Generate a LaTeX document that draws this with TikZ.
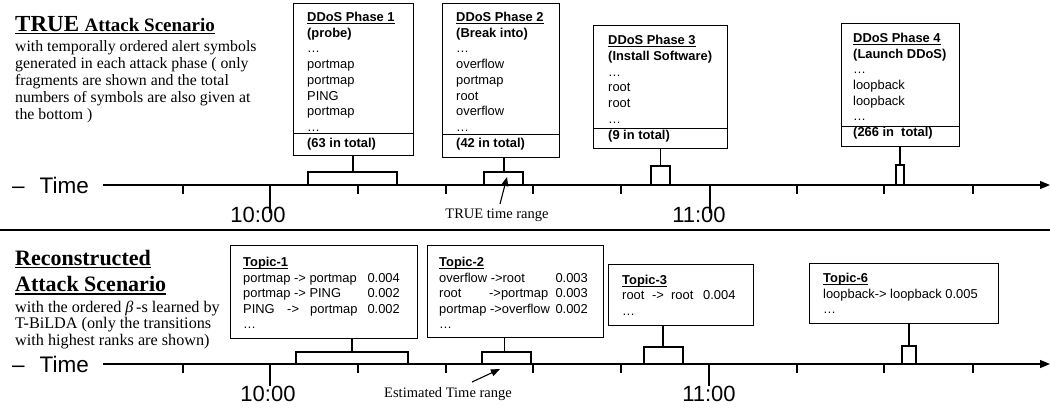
\documentclass[tikz,border=0pt]{standalone}
\usepackage{fontspec}
\setmainfont{Liberation Serif}
\setsansfont{Liberation Sans}
\usetikzlibrary{arrows.meta}

% underline drawn as a rule close to the baseline: #1 drop, #2 thickness, #3 text
\newcommand{\undl}[3]{\leavevmode\setbox0\hbox{#3}\rlap{\rule[-#1]{\wd0}{#2}}\box0}

\begin{document}
\begin{tikzpicture}[x=1pt,y=-1pt,
  boxframe/.style={draw, line width=1.4pt, anchor=north west, inner sep=0pt},
  divider/.style={line width=1.2pt},
  boxtxt/.style={anchor=base west, inner sep=0pt, font=\sffamily\fontsize{12.9}{15}\selectfont},
  numtxt/.style={anchor=base east, inner sep=0pt, font=\sffamily\fontsize{12.9}{15}\selectfont},
  timeline/.style={line width=1.2pt, -{Triangle[length=10pt,width=8pt]}},
  tickmark/.style={line width=1.1pt},
  bracket/.style={line width=1.1pt},
  stemthick/.style={line width=2pt},
  stemthin/.style={line width=1pt},
  timelbl/.style={anchor=base west, inner sep=0pt, font=\sffamily\fontsize{22.5}{22.5}\selectfont},
  clocklbl/.style={anchor=base, inner sep=0pt, font=\sffamily\fontsize{22}{22}\selectfont},
  headtxt/.style={anchor=base west, inner sep=0pt, font=\rmfamily\bfseries\fontsize{22}{22}\selectfont},
  serifbody/.style={anchor=base west, inner sep=0pt, font=\rmfamily\fontsize{15.8}{16}\selectfont},
  rangelbl/.style={anchor=base, inner sep=0pt, font=\rmfamily\fontsize{14.5}{14.5}\selectfont},
  pointer/.style={line width=1.1pt, -{Triangle[length=9pt,width=7pt]}},
]
\useasboundingbox (0,0) rectangle (1050,408);

% ---------------- upper half: true attack scenario ----------------
\node[headtxt] (truetitle) at (15,31.7)
  {\undl{2.6pt}{1.4pt}{{\fontsize{23}{23}\selectfont TRUE} {\fontsize{19}{19}\selectfont Attack Scenario}}};
\foreach \s [count=\i] in {
  with temporally ordered alert symbols,
  generated in each attack phase ( only,
  fragments are shown and the total,
  numbers of symbols are also given at,
  the bottom )}
  \node[serifbody] (truedesc\i) at (15,{51.5+17*(\i-1)}) {\s};

% time axis
\node[timelbl] (time1) at (12,193) {–\hspace{15pt}Time};
\coordinate (ax1s) at (103,185);
\coordinate (ax1e) at (1050,185);
\draw[timeline] (ax1s) -- (ax1e);
\foreach \x in {183,358,446,533,621,797,884,973}
  \draw[tickmark] (\x,185) -- (\x,194);
\draw[tickmark] (270,185) -- (270,213);
\draw[tickmark] (710,185) -- (710,213);
\node[clocklbl] (clk1a) at (258,222) {10:00};
\node[clocklbl] (clk1b) at (699,222) {11:00};

% phase boxes
\node[boxframe, minimum width=120pt, minimum height=152pt] (p1) at (293,3) {};
\node[boxframe, minimum width=117pt, minimum height=154pt] (p2) at (442,3) {};
\node[boxframe, minimum width=134pt, minimum height=123pt] (p3) at (593,25) {};
\node[boxframe, minimum width=118pt, minimum height=123pt] (p4) at (841,23) {};
\draw[divider] ([yshift=23pt]p1.south west) -- ([yshift=23pt]p1.south east);
\draw[divider] ([yshift=24pt]p2.south west) -- ([yshift=24pt]p2.south east);
\draw[divider] ([yshift=21pt]p3.south west) -- ([yshift=21pt]p3.south east);
\draw[divider] ([yshift=21pt]p4.south west) -- ([yshift=21pt]p4.south east);

\foreach \s [count=\i] in {{\textbf{\undl{2.8pt}{1pt}{DDoS Phase 1}}}, {\textbf{(probe)}}, …,
  portmap, portmap, PING, portmap, …, {\textbf{(63 in total)}}}
  \node[boxtxt] (p1t\i) at (307,{21.5+15.7*(\i-1)}) {\s};
\foreach \s [count=\i] in {{\textbf{\undl{2.8pt}{1pt}{DDoS Phase 2}}}, {\textbf{(Break into)}}, …,
  overflow, portmap, root, overflow, …, {\textbf{(42 in total)}}}
  \node[boxtxt] (p2t\i) at (456,{21.5+15.7*(\i-1)}) {\s};
\foreach \s [count=\i] in {{\textbf{\undl{2.8pt}{1pt}{DDoS Phase 3}}}, {\textbf{(Install Software)}}, …,
  root, root, …, {\textbf{(9 in total)}}}
  \node[boxtxt] (p3t\i) at (608,{44.5+15.8*(\i-1)}) {\s};
\foreach \s [count=\i] in {{\textbf{\undl{2.8pt}{1pt}{DDoS Phase 4}}}, {\textbf{(Launch DDoS)}}, …,
  loopback, loopback, …, {\textbf{(266 in\ \ total)}}}
  \node[boxtxt] (p4t\i) at (853,{42.6+15.6*(\i-1)}) {\s};

% stems and time-range brackets
\coordinate (b1) at (353,172);
\coordinate (b2) at (504,172);
\coordinate (b3) at (660,166);
\coordinate (b4) at (900,165);
\draw[stemthick] (p1.south -| b1) -- (b1);
\draw[stemthick] (p2.south -| b2) -- (b2);
\draw[stemthin]  (p3.south -| b3) -- (b3);
\draw[stemthick] (p4.south -| b4) -- (b4);
\draw[bracket] (308,185) |- (397,172) -- (397,185);
\draw[bracket] (484,185) |- (523,172) -- (523,185);
\draw[bracket] (651,185) |- (670,166) -- (670,185);
\draw[bracket] (896,185) |- (904,165) -- (904,185);

\node[rangelbl] (truerange) at (497,218) {TRUE time range};
\coordinate (trtail) at (500,204);
\coordinate (trtip) at (507,177);
\draw[pointer] (trtail) -- (trtip);

% separator
\coordinate (sepl) at (0,230);
\coordinate (sepr) at (1050,230);
\draw[line width=1.6pt] (sepl) -- (sepr);

% ---------------- lower half: reconstructed scenario ----------------
\node[headtxt] (rectitle1) at (15,265) {\undl{3.2pt}{1.5pt}{Reconstructed}};
\node[headtxt] (rectitle2) at (15,291.7) {\undl{3.2pt}{1.5pt}{Attack Scenario}};
\node[serifbody, font=\rmfamily\fontsize{16.2}{16}\selectfont] (recdesc1) at (15,312)
  {with the ordered {\itshape β}\,-s learned by};
\node[serifbody, font=\rmfamily\fontsize{16.2}{16}\selectfont] (recdesc2) at (15,328.5)
  {T-BiLDA (only the transitions};
\node[serifbody, font=\rmfamily\fontsize{16.2}{16}\selectfont] (recdesc3) at (15,345)
  {with highest ranks are shown)};

% time axis
\node[timelbl] (time2) at (12,372) {–\hspace{15pt}Time};
\coordinate (ax2s) at (103,364);
\coordinate (ax2e) at (1050,364);
\draw[timeline] (ax2s) -- (ax2e);
\foreach \x in {183,358,446,533,621,797,884,973}
  \draw[tickmark] (\x,364) -- (\x,373);
\draw[tickmark] (270,364) -- (270,386);
\draw[tickmark] (709,364) -- (709,386);
\node[clocklbl] (clk2a) at (268,401) {10:00};
\node[clocklbl] (clk2b) at (709,401) {11:00};

% topic boxes
\node[boxframe, minimum width=187pt, minimum height=93pt] (t1) at (230,245) {};
\node[boxframe, minimum width=176pt, minimum height=92pt] (t2) at (427,245) {};
\node[boxframe, minimum width=145pt, minimum height=61pt] (t3) at (608,264) {};
\node[boxframe, minimum width=189pt, minimum height=60pt] (t6) at (809,263) {};

\node[boxtxt] (t1h)  at (243,266.5) {\textbf{\undl{2.8pt}{1pt}{Topic-1}}};
\node[boxtxt] (t1r1) at (243,282)   {portmap -> portmap};
\node[numtxt] (t1n1) at (400,282)   {0.004};
\node[boxtxt] (t1r2) at (243,297.5) {portmap -> PING};
\node[numtxt] (t1n2) at (400,297.5) {0.002};
\node[boxtxt] (t1r3) at (243,313)   {\makebox[44pt][l]{PING}\makebox[23pt][l]{->}portmap};
\node[numtxt] (t1n3) at (400,313)   {0.002};
\node[boxtxt] (t1r4) at (243,328.5) {…};

\node[boxtxt] (t2h)  at (439,266.5) {\textbf{\undl{2.8pt}{1pt}{Topic-2}}};
\node[boxtxt] (t2r1) at (439,282)   {overflow ->root};
\node[numtxt] (t2n1) at (588,282)   {0.003};
\node[boxtxt] (t2r2) at (439,297.5) {\makebox[50pt][l]{root}->portmap};
\node[numtxt] (t2n2) at (588,297.5) {0.003};
\node[boxtxt] (t2r3) at (439,313)   {portmap ->overflow};
\node[numtxt] (t2n3) at (588,313)   {0.002};
\node[boxtxt] (t2r4) at (439,328.5) {…};

\node[boxtxt] (t3h)  at (622,284)   {\textbf{\undl{2.8pt}{1pt}{Topic-3}}};
\node[boxtxt] (t3r1) at (622,299.5) {\makebox[30pt][l]{root}\makebox[19pt][l]{->}\makebox[32pt][l]{root}0.004};
\node[boxtxt] (t3r2) at (622,315)   {…};

\node[boxtxt] (t6h)  at (823,282.5) {\textbf{\undl{2.8pt}{1pt}{Topic-6}}};
\node[boxtxt] (t6r1) at (823,298)   {loopback-> loopback 0.005};
\node[boxtxt] (t6r2) at (823,313.5) {…};

% stems and estimated-range brackets
\coordinate (c1) at (352,352);
\coordinate (c2) at (504,352);
\coordinate (c3) at (663,347);
\coordinate (c6) at (909,346);
\draw[stemthick] (t1.south -| c1) -- (c1);
\draw[stemthin]  (t2.south -| c2) -- (c2);
\draw[stemthick] (t3.south -| c3) -- (c3);
\draw[stemthick] (t6.south -| c6) -- (c6);
\draw[bracket] (296,364) |- (408,352) -- (408,364);
\draw[bracket] (482,364) |- (531,352) -- (531,364);
\draw[bracket] (644,364) |- (683,347) -- (683,364);
\draw[bracket] (902,364) |- (916,346) -- (916,364);

\node[rangelbl] (estrange) at (448,397.5) {Estimated Time range};
\coordinate (ertail) at (472,382);
\coordinate (ertip) at (500,369);
\draw[pointer] (ertail) -- (ertip);
\end{tikzpicture}
\end{document}
